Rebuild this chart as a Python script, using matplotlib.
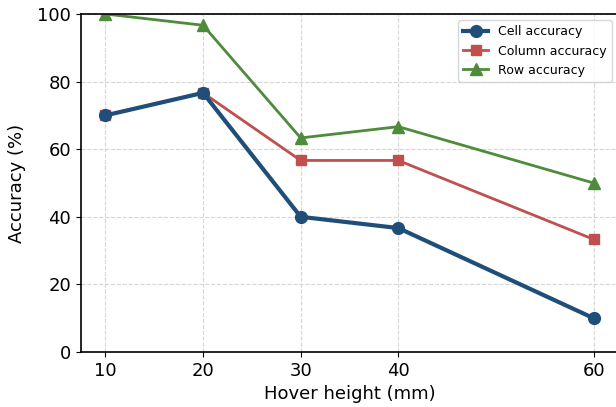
import matplotlib.pyplot as plt

heights = [10, 20, 30, 40, 60]
cell_acc = [70.0, 76.67, 40.0, 36.67, 10.0]
column_acc = [70.0, 76.67, 56.67, 56.67, 33.33]
row_acc = [100.0, 96.67, 63.33, 66.67, 50.0]

fig = plt.figure(figsize=(6.16, 4.07), dpi=100)
ax = fig.add_axes([81 / 616, 1 - 352 / 407, 537 / 616, 338 / 407])

ax.plot(heights, cell_acc, color='#1f4e79', linewidth=3, marker='o', markersize=8.5,
        label='Cell accuracy', zorder=3)
ax.plot(heights, column_acc, color='#c0504d', linewidth=2, marker='s', markersize=7.5,
        label='Column accuracy', zorder=2)
ax.plot(heights, row_acc, color='#4e8b3a', linewidth=2, marker='^', markersize=8.5,
        label='Row accuracy', zorder=2)

ax.set_xlim(7.5, 62.5)
ax.set_ylim(0, 100)
ax.set_xticks(heights)
ax.set_yticks([0, 20, 40, 60, 80, 100])
ax.tick_params(labelsize=13)
ax.set_xlabel('Hover height (mm)', fontsize=13)
ax.set_ylabel('Accuracy (%)', fontsize=13, labelpad=8)
ax.grid(True, linestyle='--', color='#cccccc', alpha=0.8)
ax.set_axisbelow(True)
ax.spines['right'].set_visible(False)
for s in ['top', 'left', 'bottom']:
    ax.spines[s].set_linewidth(1.2)
ax.legend(fontsize=9, loc='upper right')

fig.savefig('out.png', dpi=100)
